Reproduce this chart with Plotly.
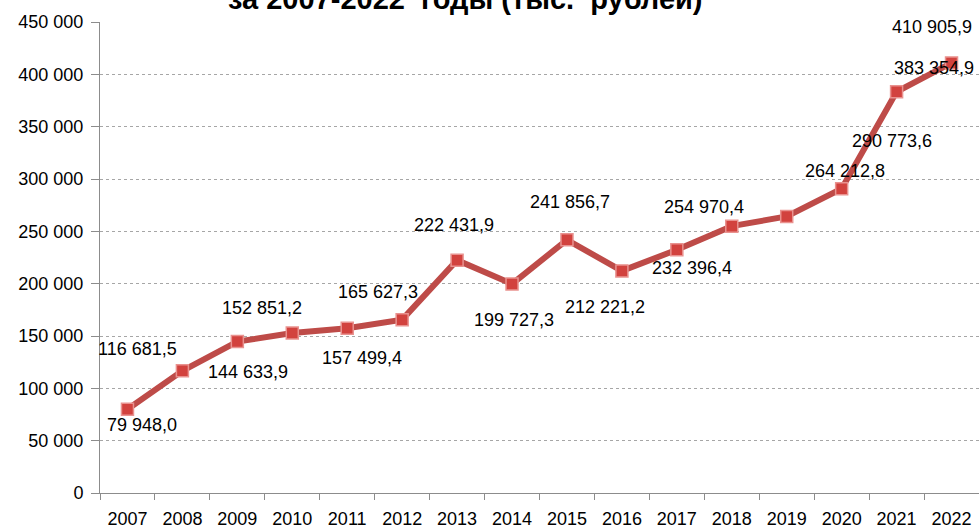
import plotly.graph_objects as go

years = ["2007", "2008", "2009", "2010", "2011", "2012", "2013", "2014",
         "2015", "2016", "2017", "2018", "2019", "2020", "2021", "2022"]
values = [79948.0, 116681.5, 144633.9, 152851.2, 157499.4, 165627.3, 222431.9, 199727.3,
          241856.7, 212221.2, 232396.4, 254970.4, 264212.8, 290773.6, 383354.9, 410905.9]
label_texts = ["79 948,0", "116 681,5", "144 633,9", "152 851,2", "157 499,4", "165 627,3",
               "222 431,9", "199 727,3", "241 856,7", "212 221,2", "232 396,4", "254 970,4",
               "264 212,8", "290 773,6", "383 354,9", "410 905,9"]
y_tickvals = [0, 50000, 100000, 150000, 200000, 250000, 300000, 350000, 400000, 450000]
y_ticktext = ["0", "50 000", "100 000", "150 000", "200 000", "250 000", "300 000",
              "350 000", "400 000", "450 000"]
title_text = "за 2007-2022\u00a0\u00a0годы (тыс.\u00a0\u00a0рублей)"

# label offsets in pixels (style, not data)
label_dx = [15, -45, 11, -30, 15, -24, -3, 2, 3, -17, 15, -28, 58, 50, 37, -20]
label_dy = [-16, 22, -30, 25, -30, 28, 35, -36, 38, -36, -18, 19, 45, 48, 24, 36]

FONT = "Liberation Sans"

fig = go.Figure()
fig.add_trace(go.Scatter(
    x=years, y=values, mode="lines+markers",
    line=dict(color="#BE4B48", width=6),
    marker=dict(symbol="square", size=12, color="#D2423E",
                line=dict(color="#E9928F", width=1.5)),
    hoverinfo="skip", showlegend=False,
))

annotations = []
for i, (y, t, dx, dy) in enumerate(zip(values, label_texts, label_dx, label_dy)):
    annotations.append(dict(x=i, y=y, xref="x", yref="y", text=t, showarrow=False,
                            xshift=dx, yshift=dy,
                            font=dict(family=FONT, size=18, color="#000000")))
plot_left, plot_width = 100, 879
annotations.append(dict(x=(465 - plot_left) / plot_width, y=1, xref="paper", yref="paper",
                        text="<b>" + title_text + "</b>",
                        showarrow=False, xanchor="center", yanchor="bottom", yshift=5,
                        font=dict(family=FONT, size=29, color="#000000")))

fig.update_layout(
    width=979, height=529,
    margin=dict(l=100, r=0, t=22, b=36),
    paper_bgcolor="white", plot_bgcolor="white",
    annotations=annotations,
    xaxis=dict(type="category", tickson="boundaries", showgrid=False,
               showline=True, linecolor="#8C8C8C", linewidth=1,
               ticks="outside", ticklen=6, tickcolor="#8C8C8C",
               tickfont=dict(family=FONT, size=18, color="#000000"),
               ticklabelstandoff=9, range=[-0.5, 15.5], automargin=False),
    yaxis=dict(range=[0, 450000], tickvals=y_tickvals, ticktext=y_ticktext,
               showgrid=True, gridcolor="#A6A6A6", griddash="dot", gridwidth=1,
               showline=True, linecolor="#8C8C8C", linewidth=1,
               ticks="outside", ticklen=8, tickcolor="#8C8C8C",
               tickfont=dict(family=FONT, size=18, color="#000000"),
               ticklabelstandoff=4, zeroline=False, automargin=False),
)

fig.write_html("out.html", config={"displayModeBar": False},
               post_script="document.body.style.margin='0';")
